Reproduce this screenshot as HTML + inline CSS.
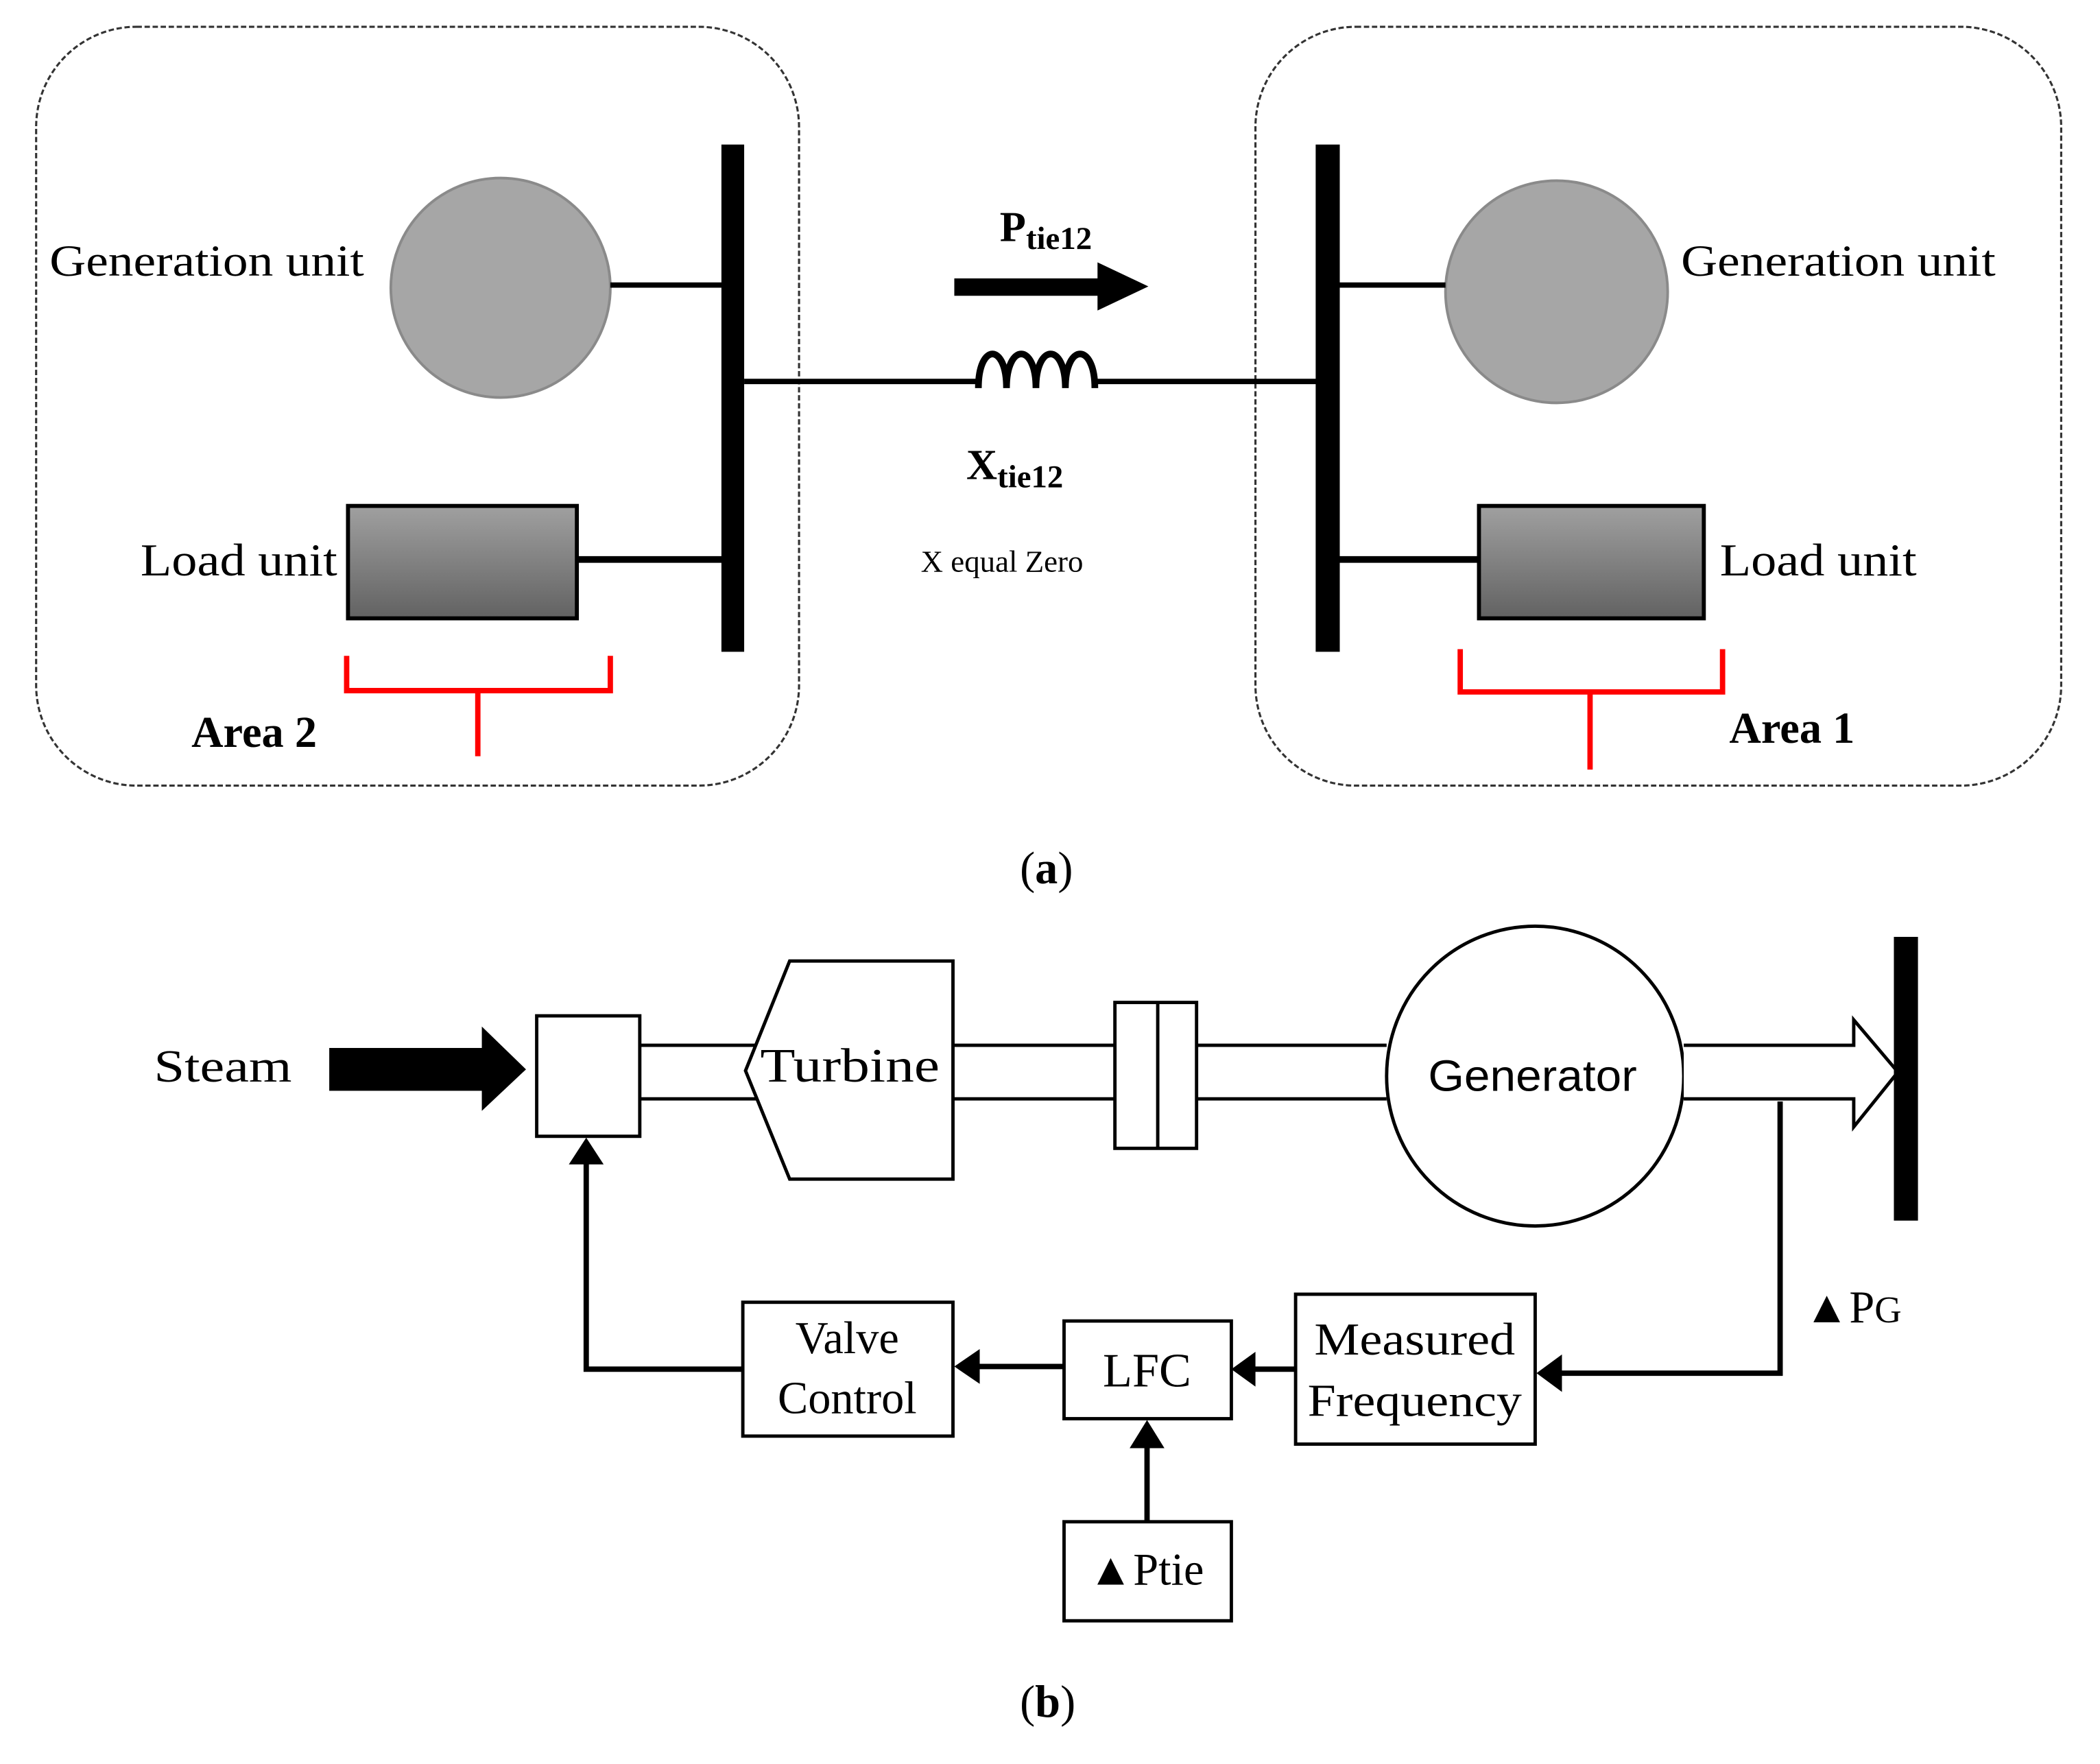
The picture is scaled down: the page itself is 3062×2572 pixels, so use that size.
<!DOCTYPE html>
<html><head><meta charset="utf-8"><style>
html,body{margin:0;padding:0;background:#fff}
svg{display:block}
text{font-family:"Liberation Serif",serif;fill:#000}
</style></head><body>
<svg width="3062" height="2572" viewBox="0 0 1569 1318" preserveAspectRatio="none" xmlns="http://www.w3.org/2000/svg">
<defs>
<linearGradient id="g" x1="0" y1="0" x2="0" y2="1"><stop offset="0" stop-color="#a0a0a0"/><stop offset="1" stop-color="#626262"/></linearGradient>
</defs>
<rect width="1569" height="1318" fill="#fff"/>
<!-- (a) -->
<rect x="27" y="20" width="570" height="567" rx="75" fill="none" stroke="#333" stroke-width="1.6" stroke-dasharray="4,2"/>
<rect x="938" y="20" width="602" height="567" rx="75" fill="none" stroke="#333" stroke-width="1.6" stroke-dasharray="4,2"/>
<rect x="539" y="108" width="17" height="379" fill="#000"/>
<rect x="983" y="108" width="18" height="379" fill="#000"/>
<circle cx="374" cy="215" r="82" fill="#a6a6a6" stroke="#8a8a8a" stroke-width="2"/>
<circle cx="1163" cy="218" r="83" fill="#a6a6a6" stroke="#8a8a8a" stroke-width="2"/>
<line x1="456" y1="213" x2="540" y2="213" stroke="#000" stroke-width="4"/>
<line x1="1000" y1="213" x2="1080" y2="213" stroke="#000" stroke-width="4"/>
<rect x="260" y="378" width="171" height="84" fill="url(#g)" stroke="#000" stroke-width="3"/>
<rect x="1105" y="378" width="168" height="84" fill="url(#g)" stroke="#000" stroke-width="3"/>
<line x1="431" y1="418" x2="540" y2="418" stroke="#000" stroke-width="5"/>
<line x1="1000" y1="418" x2="1105" y2="418" stroke="#000" stroke-width="5"/>
<line x1="556" y1="285" x2="731" y2="285" stroke="#000" stroke-width="4"/>
<line x1="820" y1="285" x2="984" y2="285" stroke="#000" stroke-width="4"/>
<path d="M731,290 C731,256 752,256 752,290 C752,256 774,256 774,290 C774,256 796,256 796,290 C796,256 818,256 818,290" fill="none" stroke="#000" stroke-width="5"/>
<rect x="713" y="208" width="110" height="13" fill="#000"/>
<polygon points="820,196 858,214 820,232" fill="#000"/>
<text x="747" y="180" font-size="32" font-weight="bold">P<tspan font-size="24" dy="6">tie12</tspan></text>
<text x="722" y="358" font-size="32" font-weight="bold">X<tspan font-size="24" dy="6">tie12</tspan></text>
<text x="688" y="427" font-size="23">X equal Zero</text>
<text x="37" y="206" font-size="33" textLength="235" lengthAdjust="spacingAndGlyphs">Generation unit</text>
<text x="1256" y="206" font-size="33" textLength="235" lengthAdjust="spacingAndGlyphs">Generation unit</text>
<text x="105" y="430" font-size="34" textLength="147" lengthAdjust="spacingAndGlyphs">Load unit</text>
<text x="1285" y="430" font-size="34" textLength="147" lengthAdjust="spacingAndGlyphs">Load unit</text>
<path d="M259,490 V516 H456 V490 M357,516 V565" fill="none" stroke="#f00" stroke-width="4"/>
<path d="M1091,485 V517 H1287 V485 M1188,517 V575" fill="none" stroke="#f00" stroke-width="4"/>
<text x="143" y="558" font-size="33" font-weight="bold">Area 2</text>
<text x="1292" y="555" font-size="33" font-weight="bold">Area 1</text>
<text x="762" y="660" font-size="34">(<tspan font-weight="bold">a</tspan>)</text>
<!-- (b) -->
<text x="115" y="808" font-size="34" textLength="103" lengthAdjust="spacingAndGlyphs">Steam</text>
<rect x="246" y="783" width="116" height="32" fill="#000"/>
<polygon points="360,767 393,799 360,830" fill="#000"/>
<rect x="401" y="759" width="77" height="90" fill="#fff" stroke="#000" stroke-width="2.5"/>
<line x1="478" y1="781" x2="1036" y2="781" stroke="#000" stroke-width="2.5"/>
<line x1="478" y1="821" x2="1036" y2="821" stroke="#000" stroke-width="2.5"/>
<polygon points="590,718 712,718 712,881 590,881 557,800" fill="#fff" stroke="#000" stroke-width="2.5"/>
<text x="568" y="808" font-size="36" textLength="134" lengthAdjust="spacingAndGlyphs">Turbine</text>
<rect x="833" y="749" width="61" height="109" fill="#fff" stroke="#000" stroke-width="2.5"/>
<line x1="865" y1="749" x2="865" y2="858" stroke="#000" stroke-width="2.5"/>
<ellipse cx="1147" cy="804" rx="111" ry="112" fill="#fff" stroke="#000" stroke-width="2.5"/>
<text x="1067" y="815" font-size="33" style="font-family:'Liberation Sans',sans-serif" textLength="156" lengthAdjust="spacingAndGlyphs">Generator</text>
<path d="M1258,781 H1385 V762 L1418,801 L1385,842 V821 H1258" fill="#fff" stroke="#000" stroke-width="2.5"/>
<rect x="1415" y="700" width="18" height="212" fill="#000"/>
<path d="M1330,823 V1026 H1165" fill="none" stroke="#000" stroke-width="4"/>
<polygon points="1167,1012 1148,1026 1167,1040" fill="#000"/>
<text x="1348" y="988" font-size="34">▲P<tspan font-size="28">G</tspan></text>
<rect x="968" y="967" width="179" height="112" fill="#fff" stroke="#000" stroke-width="2.5"/>
<text x="1057" y="1012" font-size="34" text-anchor="middle" textLength="150" lengthAdjust="spacingAndGlyphs">Measured</text>
<text x="1057" y="1058" font-size="34" text-anchor="middle" textLength="160" lengthAdjust="spacingAndGlyphs">Frequency</text>
<rect x="795" y="987" width="125" height="73" fill="#fff" stroke="#000" stroke-width="2.5"/>
<text x="857" y="1036" font-size="36" text-anchor="middle">LFC</text>
<rect x="555" y="973" width="157" height="100" fill="#fff" stroke="#000" stroke-width="2.5"/>
<text x="633" y="1011" font-size="34" text-anchor="middle">Valve</text>
<text x="633" y="1056" font-size="34" text-anchor="middle">Control</text>
<line x1="968" y1="1023" x2="935" y2="1023" stroke="#000" stroke-width="4"/>
<polygon points="938,1010 920,1023 938,1036" fill="#000"/>
<line x1="795" y1="1021" x2="728" y2="1021" stroke="#000" stroke-width="4"/>
<polygon points="732,1008 713,1021 732,1034" fill="#000"/>
<path d="M555,1023 H438 V866" fill="none" stroke="#000" stroke-width="4"/>
<polygon points="425,870 438,850 451,870" fill="#000"/>
<rect x="795" y="1137" width="125" height="74" fill="#fff" stroke="#000" stroke-width="2.5"/>
<text x="813" y="1184" font-size="34">▲Ptie</text>
<line x1="857" y1="1137" x2="857" y2="1078" stroke="#000" stroke-width="4"/>
<polygon points="844,1082 857,1061 870,1082" fill="#000"/>
<text x="762" y="1283" font-size="34">(<tspan font-weight="bold">b</tspan>)</text>
</svg>
</body></html>
